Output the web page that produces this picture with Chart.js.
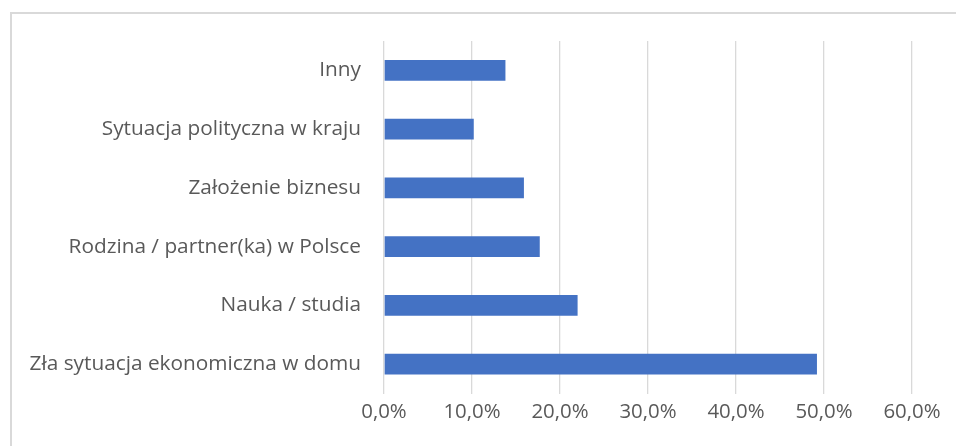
<!DOCTYPE html>
<html>
<head>
<meta charset="utf-8">
<script src="https://cdn.jsdelivr.net/npm/chart.js@4"></script>
<style>
  html, body { margin: 0; padding: 0; background: #ffffff; overflow: hidden; }
  #wrap { position: relative; width: 956px; height: 446px; }
  #frame { position: absolute; left: 10px; top: 12px; width: 1000px; height: 500px;
           border-left: 2px solid #d9d9d9; border-top: 2px solid #d9d9d9; box-sizing: border-box; }
  canvas { position: absolute; left: 0; top: 0; }
</style>
</head>
<body>
<div id="wrap">
  <div id="frame"></div>
  <canvas id="c" width="956" height="446"></canvas>
</div>
<script>
const categories = [
  'Inny',
  'Sytuacja polityczna w kraju',
  'Założenie biznesu',
  'Rodzina / partner(ka) w Polsce',
  'Nauka / studia',
  'Zła sytuacja ekonomiczna w domu'
];
const values = [13.8, 10.2, 15.9, 17.7, 22.0, 49.2];
const xTickLabels = ['0,0%', '10,0%', '20,0%', '30,0%', '40,0%', '50,0%', '60,0%'];

const FONT = '"Open Sans", Lato, sans-serif';
const TEXT = '#595959';

// pick font sizes so that text widths match the reference
function fitSize(text, family, targetWidth) {
  const ctx = document.createElement('canvas').getContext('2d');
  ctx.font = '100px ' + family;
  const w = ctx.measureText(text).width;
  return Math.round(100 * targetWidth / w * 10) / 10;
}
const ySize = fitSize('Zła sytuacja ekonomiczna w domu', FONT, 331);
const xSize = fitSize('10,0%', FONT, 57);

function draw() {
new Chart(document.getElementById('c'), {
  type: 'bar',
  data: {
    labels: categories,
    datasets: [{
      data: values,
      backgroundColor: '#4472C4',
      borderWidth: 0,
      barPercentage: 0.352,
      categoryPercentage: 1.0
    }]
  },
  options: {
    indexAxis: 'y',
    responsive: false,
    animation: false,
    events: [],
    layout: { padding: { left: 0, right: 44, top: 41, bottom: 0 } },
    plugins: { legend: { display: false }, tooltip: { enabled: false } },
    scales: {
      x: {
        min: 0, max: 60,
        ticks: {
          stepSize: 10,
          padding: 6,
          color: TEXT,
          font: { family: FONT, size: xSize },
          callback: (v, i) => xTickLabels[i]
        },
        grid: { color: '#d9d9d9', lineWidth: 1.3, drawTicks: false },
        border: { display: false },
        afterFit: (s) => { s.height = 446 - 393.5; }
      },
      y: {
        ticks: {
          padding: 23,
          color: TEXT,
          font: { family: FONT, size: ySize }
        },
        grid: { display: false, drawTicks: false },
        border: { display: false },
        afterFit: (s) => { s.width = 384; }
      }
    }
  }
});
}
draw();
</script>
</body>
</html>
